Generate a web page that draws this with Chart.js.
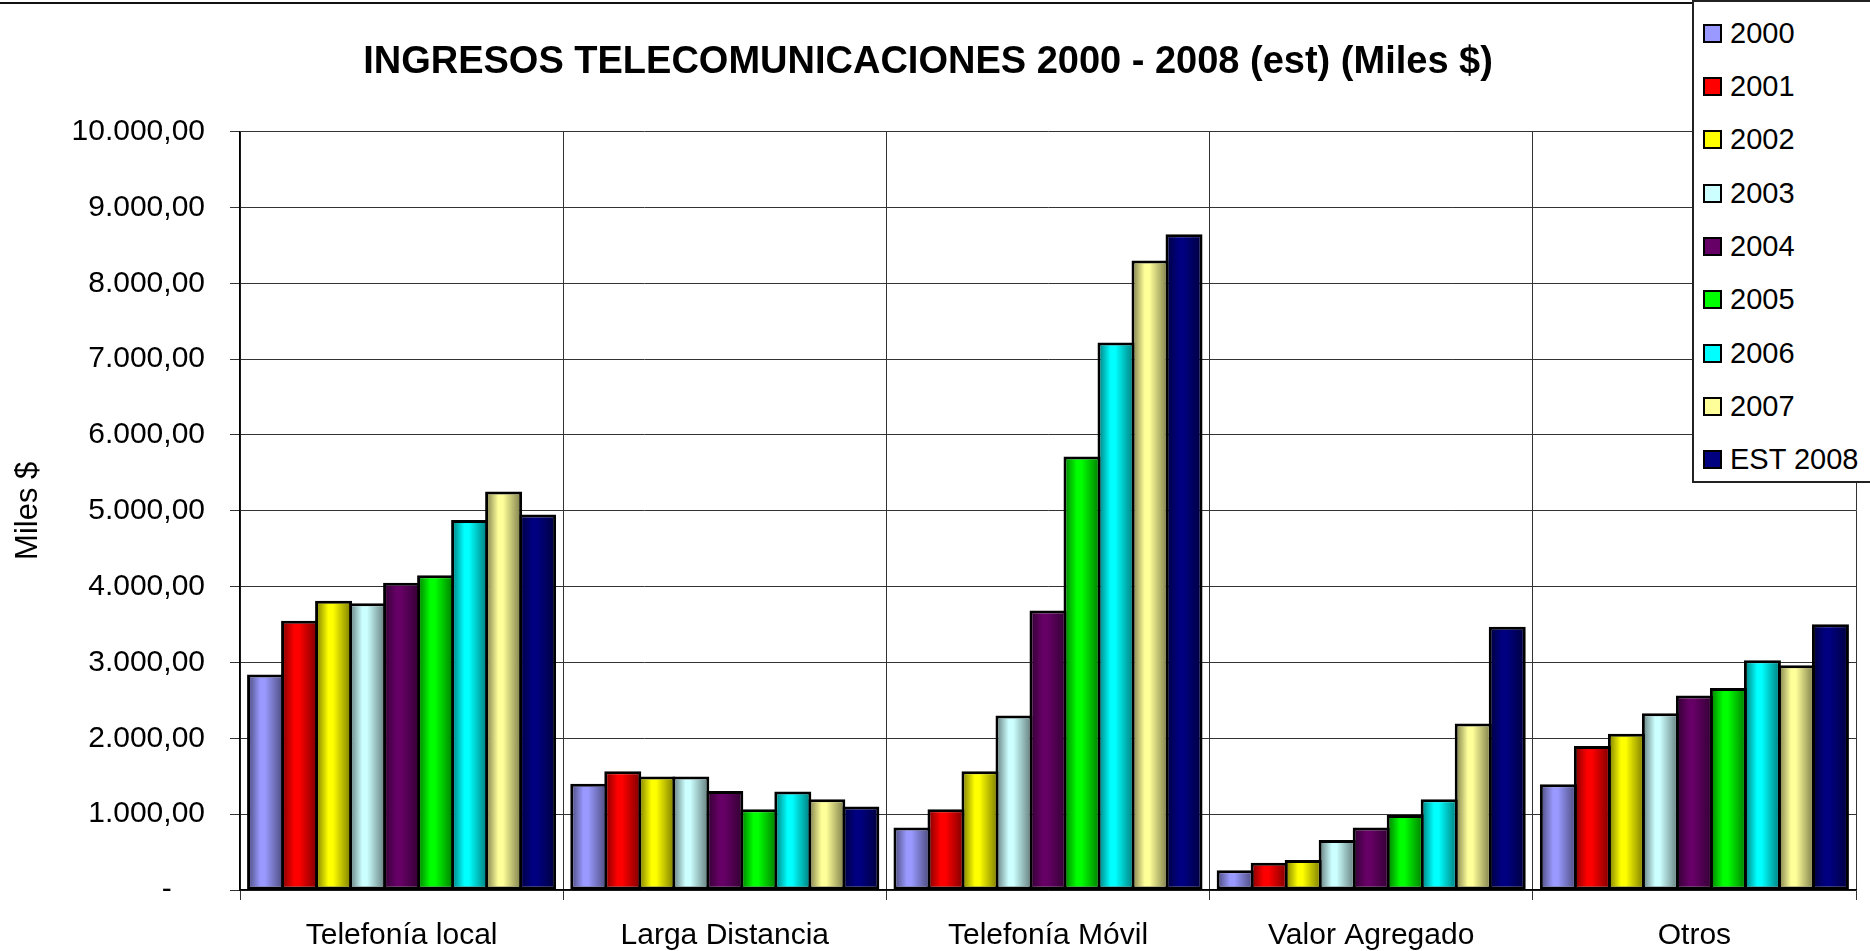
<!DOCTYPE html>
<html>
<head>
<meta charset="utf-8">
<script src="https://cdn.jsdelivr.net/npm/chart.js@4.4.1/dist/chart.umd.min.js"></script>
<style>
  html, body { margin: 0; padding: 0; background: #fff; }
  #wrap { position: relative; width: 1870px; height: 951px; overflow: hidden; }
  #topline { position: absolute; left: 0; top: 2px; width: 1870px; height: 2px; background: #111; }
  #legend {
    position: absolute; left: 1692px; top: 0; width: 190px; height: 479px;
    border: 2px solid #222; background: #fff;
    font-family: 'Liberation Sans', Arial, sans-serif; font-size: 29px; color: #000;
  }
  .row { position: absolute; left: 9px; height: 30px; display: flex; align-items: center; white-space: nowrap; }
  .sw { width: 15px; height: 15px; border: 2px solid #000; margin-right: 8px; }
</style>
</head>
<body>
<div id="wrap">
  <canvas id="chart" width="1870" height="951"></canvas>
  <div id="topline"></div>
  <div id="legend"></div>
</div>
<script>
'use strict';

const categories = ['Telefonía local', 'Larga Distancia', 'Telefonía Móvil', 'Valor Agregado', 'Otros'];
const seriesLabels = ['2000', '2001', '2002', '2003', '2004', '2005', '2006', '2007', 'EST 2008'];
const seriesColors = ['#9999FF', '#FF0000', '#FFFF00', '#CCFFFF', '#660066', '#00FF00', '#00FFFF', '#FFFF99', '#000080'];

// Miles $ per category
const v2000 = [2840, 1400, 825, 260, 1395];
const v2001 = [3550, 1565, 1065, 360, 1900];
const v2002 = [3815, 1495, 1565, 395, 2060];
const v2003 = [3780, 1495, 2300, 660, 2330];
const v2004 = [4050, 1305, 3685, 825, 2565];
const v2005 = [4150, 1065, 5715, 990, 2665];
const v2006 = [4880, 1300, 7220, 1195, 3030];
const v2007 = [5255, 1195, 8300, 2195, 2965];
const v2008 = [4950, 1100, 8645, 3470, 3505];
const seriesValues = [v2000, v2001, v2002, v2003, v2004, v2005, v2006, v2007, v2008];

const yTickLabels = ['-    ', '1.000,00', '2.000,00', '3.000,00', '4.000,00', '5.000,00',
  '6.000,00', '7.000,00', '8.000,00', '9.000,00', '10.000,00'];

const FONT = "'Liberation Sans', Arial, sans-serif";
Chart.defaults.font.family = FONT;
Chart.defaults.color = '#000';

const BAR_BORDER = 3;

// Excel-style cylinder shading laid over each bar
const barShade = {
  id: 'barShade',
  afterDatasetsDraw(chart) {
    const { ctx } = chart;
    const bw = BAR_BORDER;
    ctx.save();
    chart.data.datasets.forEach((ds, di) => {
      chart.getDatasetMeta(di).data.forEach(bar => {
        const l = bar.x - bar.width / 2 + bw;
        const r = bar.x + bar.width / 2 - bw;
        const t = bar.y + bw;
        const b = bar.base - bw;
        if (b <= t || r <= l) return;
        const g = ctx.createLinearGradient(l, 0, r, 0);
        g.addColorStop(0, 'rgba(0,0,0,0.42)');
        g.addColorStop(0.33, 'rgba(0,0,0,0)');
        g.addColorStop(0.48, 'rgba(0,0,0,0)');
        g.addColorStop(1, 'rgba(0,0,0,0.45)');
        ctx.fillStyle = g;
        ctx.fillRect(l, t, r - l, b - t);
      });
    });
    ctx.restore();
  }
};

// bars slightly wider than their slot so neighbours share one border
const datasets = seriesLabels.map((label, i) => ({
  label,
  data: seriesValues[i],
  backgroundColor: seriesColors[i],
  borderColor: '#000',
  borderWidth: BAR_BORDER,
  borderSkipped: false,
  categoryPercentage: 0.947,
  barPercentage: 1.088
}));

new Chart(document.getElementById('chart'), {
  type: 'bar',
  data: { labels: categories, datasets },
  plugins: [barShade],
  options: {
    responsive: false,
    devicePixelRatio: 1,
    animation: false,
    events: [],
    layout: { padding: { left: 0, right: 14, top: 0, bottom: 0 } },
    plugins: {
      legend: { display: false },
      tooltip: { enabled: false },
      title: {
        display: true,
        text: 'INGRESOS TELECOMUNICACIONES 2000 - 2008 (est) (Miles $)',
        color: '#000',
        font: { size: 38, weight: 'bold', lineHeight: 1.2 },
        padding: { top: 40, bottom: 46 }
      }
    },
    scales: {
      x: {
        grid: { offset: true, color: '#333', lineWidth: 1, tickLength: 10 },
        border: { color: '#000', width: 1.5 },
        ticks: { font: { size: 30 }, color: '#000', padding: 18, maxRotation: 0, autoSkip: false },
        afterFit(scale) { scale.height = 61; }
      },
      y: {
        min: 0,
        max: 10000,
        ticks: {
          stepSize: 1000,
          font: { size: 30 },
          color: '#000',
          padding: 25,
          callback: (v, i) => yTickLabels[i]
        },
        grid: { color: '#333', lineWidth: 1, tickLength: 10 },
        border: { color: '#000', width: 1.5 },
        title: {
          display: true,
          text: 'Miles $',
          color: '#000',
          font: { size: 31 },
          padding: { top: 10, bottom: 0 }
        },
        afterFit(scale) { scale.width = 240; }
      }
    }
  }
});

// legend box sitting over the top right of the plot
const legend = document.getElementById('legend');
seriesLabels.forEach((label, i) => {
  const row = document.createElement('div');
  row.className = 'row';
  row.style.top = (33.3 + 53.3 * i - 15 - 2) + 'px';
  const sw = document.createElement('span');
  sw.className = 'sw';
  sw.style.background = seriesColors[i];
  row.appendChild(sw);
  row.appendChild(document.createTextNode(label));
  legend.appendChild(row);
});
</script>
</body>
</html>
